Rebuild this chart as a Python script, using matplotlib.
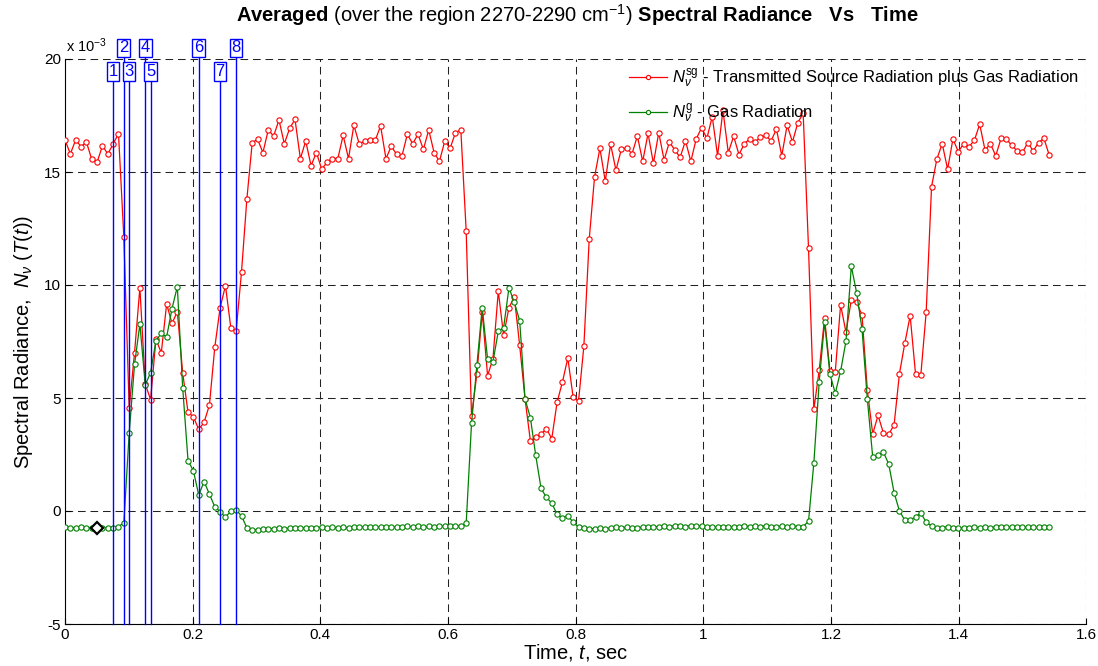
import numpy as np
import matplotlib
matplotlib.use("Agg")
import matplotlib.pyplot as plt
from matplotlib.ticker import FuncFormatter

plt.rcParams['font.family'] = 'Liberation Sans'
plt.rcParams['mathtext.fontset'] = 'custom'
plt.rcParams['mathtext.rm'] = 'Liberation Sans'
plt.rcParams['mathtext.it'] = 'Liberation Sans:italic'
plt.rcParams['mathtext.bf'] = 'Liberation Sans:bold'
plt.rcParams['lines.scale_dashes'] = False

# frame spacing of the radiometer record, seconds
frame_dt = 0.00838

# band-averaged spectral radiance, units of 1e-3
n_sg = [16.42, 15.80, 16.42, 16.12, 16.33, 15.56, 15.43, 16.16, 15.80, 16.24,
        16.70, 12.11, 4.56, 7.00, 9.88, 5.62, 4.93, 7.60, 7.00, 9.16,
        8.30, 8.82, 6.12, 4.37, 4.17, 3.61, 3.92, 4.69, 7.24, 9.00,
        9.97, 8.11, 7.98, 10.58, 13.81, 16.30, 16.45, 15.86, 16.86, 16.59,
        17.30, 16.25, 16.93, 17.33, 15.59, 16.37, 15.28, 15.86, 15.12, 15.44,
        15.59, 15.59, 16.62, 15.59, 17.07, 16.25, 16.36, 16.43, 16.40, 17.04,
        15.59, 16.14, 15.78, 15.72, 16.67, 16.25, 16.67, 16.00, 16.86, 15.86,
        15.47, 16.37, 16.05, 16.74, 16.86, 12.39, 4.20, 6.06, 8.79, 5.99,
        6.73, 9.72, 7.77, 9.00, 9.47, 7.33, 4.96, 3.11, 3.26, 3.41,
        3.64, 3.20, 4.82, 5.71, 6.77, 5.03, 4.85, 7.29, 12.02, 14.78,
        16.05, 14.59, 16.23, 15.08, 16.00, 16.08, 15.80, 16.59, 15.47, 16.71,
        15.38, 16.74, 15.53, 16.33, 15.97, 15.65, 16.38, 15.47, 16.46, 16.95,
        16.49, 17.45, 15.72, 17.73, 15.86, 16.58, 15.77, 16.25, 16.47, 16.33,
        16.53, 16.62, 16.37, 16.90, 15.72, 17.07, 16.33, 17.18, 17.60, 11.62,
        4.50, 6.24, 8.55, 6.21, 6.16, 9.13, 7.91, 9.34, 9.23, 8.67,
        5.34, 3.41, 4.23, 3.45, 3.39, 3.82, 6.08, 7.42, 8.64, 6.08,
        6.03, 8.81, 14.35, 15.58, 16.25, 15.12, 16.46, 15.90, 16.25, 16.12,
        16.40, 17.11, 15.97, 16.25, 15.72, 16.49, 16.45, 16.18, 15.93, 15.87,
        16.30, 15.93, 16.30, 16.49, 15.75]

n_g = [-0.72, -0.74, -0.75, -0.73, -0.74, -0.76, -0.75, -0.74, -0.74, -0.74,
       -0.69, -0.52, 3.44, 6.49, 8.27, 5.58, 6.12, 7.54, 7.86, 7.70,
       8.95, 9.93, 5.46, 2.23, 1.78, 0.71, 1.30, 0.74, 0.19, -0.03,
       -0.28, 0.00, 0.04, -0.22, -0.74, -0.85, -0.82, -0.80, -0.78, -0.78,
       -0.76, -0.78, -0.76, -0.74, -0.76, -0.74, -0.76, -0.74, -0.72, -0.74,
       -0.72, -0.74, -0.72, -0.74, -0.72, -0.72, -0.70, -0.72, -0.70, -0.72,
       -0.70, -0.72, -0.70, -0.70, -0.68, -0.70, -0.68, -0.70, -0.68, -0.70,
       -0.68, -0.66, -0.68, -0.66, -0.68, -0.55, 3.88, 6.46, 9.00, 6.73,
       6.59, 7.95, 8.11, 9.88, 9.23, 8.42, 4.96, 4.13, 2.46, 1.00,
       0.60, 0.35, -0.15, -0.30, -0.20, -0.50, -0.72, -0.75, -0.78, -0.78,
       -0.77, -0.80, -0.74, -0.71, -0.75, -0.71, -0.75, -0.74, -0.71, -0.71,
       -0.69, -0.69, -0.65, -0.69, -0.65, -0.65, -0.69, -0.65, -0.68, -0.65,
       -0.69, -0.69, -0.71, -0.71, -0.69, -0.71, -0.69, -0.65, -0.69, -0.65,
       -0.69, -0.65, -0.69, -0.71, -0.65, -0.69, -0.65, -0.69, -0.69, -0.46,
       2.14, 5.72, 8.35, 6.06, 5.21, 6.19, 7.51, 10.83, 9.65, 8.05,
       4.94, 2.39, 2.46, 2.61, 2.07, 0.81, 0.00, -0.41, -0.41, -0.25,
       -0.09, -0.50, -0.66, -0.75, -0.75, -0.69, -0.75, -0.75, -0.75, -0.75,
       -0.69, -0.75, -0.71, -0.75, -0.69, -0.71, -0.71, -0.71, -0.72, -0.70,
       -0.72, -0.70, -0.72, -0.72, -0.72]

# frames picked out for spectra
marker_frames = [9, 11, 12, 15, 16, 25, 29, 32]
marker_labels = ['1', '2', '3', '4', '5', '6', '7', '8']
ref_frame = 6

x_ticks = [0, 0.2, 0.4, 0.6, 0.8, 1.0, 1.2, 1.4, 1.6]
y_ticks = [-5, 0, 5, 10, 15, 20]

scale = 1e-3
t = np.arange(len(n_sg)) * frame_dt
sg = np.array(n_sg) * scale
g = np.array(n_g) * scale

fig = plt.figure(figsize=(10.98, 6.66), dpi=100)
ax = fig.add_axes([65.0 / 1098, 1 - 624 / 666, (1086.3 - 65.0) / 1098, (624 - 59) / 666])

grid_style = dict(color='#222222', lw=0.75, ls=(0, (5.5, 3.5)))
for xv in x_ticks[1:]:
    ax.axvline(xv, zorder=0.5, **grid_style)
for yv in y_ticks:
    ax.axhline(yv * scale, zorder=0.5, **grid_style)

ax.plot(t, sg, '-o', color='#ff0000', lw=0.9, ms=3.8, mfc='white', mew=0.8,
        zorder=3, label=r'$N_{\nu}^{\rm sg}$ - Transmitted Source Radiation plus Gas Radiation')
ax.plot(t, g, '-o', color='#008000', lw=0.9, ms=3.8, mfc='white', mew=0.8,
        zorder=3, label=r'$N_{\nu}^{\rm g}$ - Gas Radiation')

ax.plot(t[ref_frame], g[ref_frame], marker='D', ms=6.5, mfc='white', mec='black',
        mew=1.6, zorder=5)

ymin = y_ticks[0] * scale
for k, (fr, lab) in enumerate(zip(marker_frames, marker_labels)):
    ytop = (19.45 if k % 2 == 0 else 20.5) * scale
    ax.plot([t[fr], t[fr]], [ymin, ytop], color='#0000ff', lw=1.0, zorder=4, clip_on=False)
    ax.text(t[fr], ytop, lab, color='#0000ff', fontsize=12, ha='center', va='center',
            zorder=6, clip_on=False,
            bbox=dict(boxstyle='square,pad=0.1', fc='white', ec='#0000ff', lw=1.0))

ax.set_xlim(0, 1.6)
ax.set_ylim(-5 * scale, 20 * scale)
ax.set_xticks(x_ticks)
ax.set_yticks([v * scale for v in y_ticks])
ax.xaxis.set_major_formatter(FuncFormatter(lambda v, p: f'{v:g}'))
ax.yaxis.set_major_formatter(FuncFormatter(lambda v, p: f'{v / scale:.0f}'))
ax.tick_params(direction='in', length=4, labelsize=11, width=0.8, pad=3)
for side in ('top', 'right'):
    ax.spines[side].set_visible(False)
for side in ('left', 'bottom'):
    ax.spines[side].set_linewidth(0.8)

fig.text(66 / 1098, 1 - 52 / 666, r'x 10$^{-3}$', fontsize=10.5, va='baseline', ha='left')

ax.set_xlabel(r'Time, $t$, sec', fontsize=14.5, labelpad=0)
ax.set_ylabel(r'Spectral Radiance,  $N_{\nu}$ ($T(t)$)', fontsize=14.5, labelpad=6)

fig.text(577 / 1098, 1 - 15 / 666,
         r'$\bf{Averaged}$ (over the region 2270-2290 cm$^{-1}$) $\bf{Spectral\ Radiance\ \ \ Vs\ \ \ Time}$',
         fontsize=14.5, ha='center', va='center')

leg = ax.legend(loc='upper left', bbox_to_anchor=(629 / 1098, 1 - 68 / 666),
                bbox_transform=fig.transFigure, frameon=False, fontsize=12,
                handlelength=2.3, handletextpad=0.3, labelspacing=0.75,
                borderpad=0, borderaxespad=0, markerscale=0.8)

fig.savefig('out.png', dpi=100)
